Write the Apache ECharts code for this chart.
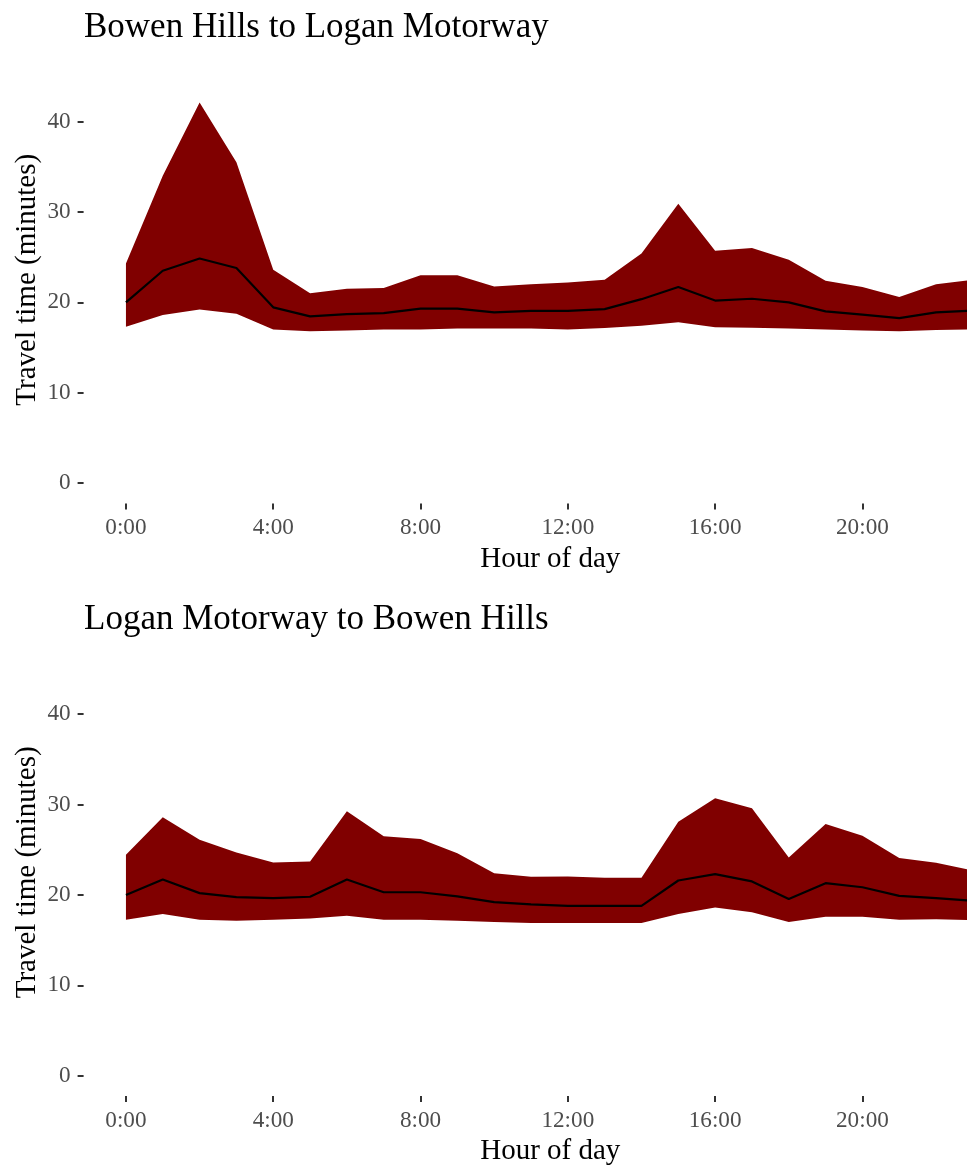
<!DOCTYPE html>
<html>
<head>
<meta charset="utf-8">
<script src="https://cdn.jsdelivr.net/npm/echarts@6/dist/echarts.min.js"></script>
<style>
  html, body { margin: 0; padding: 0; background: #ffffff; }
  #chart { width: 967px; height: 1165px; }
</style>
</head>
<body>
<div id="chart"></div>
<script>
// ---- data ----
const hours = [0,1,2,3,4,5,6,7,8,9,10,11,12,13,14,15,16,17,18,19,20,21,22,23];
const xTickValues = [0, 4, 8, 12, 16, 20];
const xTickLabels = ['0:00', '4:00', '8:00', '12:00', '16:00', '20:00'];
const yTickValues = [0, 10, 20, 30, 40];

const titles = ['Bowen Hills to Logan Motorway', 'Logan Motorway to Bowen Hills'];

// Bowen Hills to Logan Motorway
const upperNorthSouth  = [24.3, 34.0, 42.1, 35.5, 23.6, 21.0, 21.5, 21.6, 23.0, 23.0, 21.75, 22.0, 22.2, 22.5, 25.4, 30.9, 25.7, 26.0, 24.7, 22.4, 21.7, 20.6, 22.0, 22.5];
const medianNorthSouth = [20.0, 23.5, 24.85, 23.8, 19.45, 18.45, 18.7, 18.8, 19.3, 19.3, 18.9, 19.05, 19.05, 19.25, 20.35, 21.7, 20.2, 20.4, 20.0, 19.0, 18.65, 18.25, 18.9, 19.1];
const lowerNorthSouth  = [17.3, 18.6, 19.2, 18.75, 17.0, 16.8, 16.9, 17.0, 17.0, 17.1, 17.1, 17.1, 17.0, 17.15, 17.4, 17.8, 17.25, 17.2, 17.1, 17.0, 16.9, 16.8, 16.95, 17.0];

// Logan Motorway to Bowen Hills
const upperSouthNorth  = [24.45, 28.6, 26.1, 24.7, 23.6, 23.7, 29.25, 26.5, 26.2, 24.6, 22.4, 22.0, 22.05, 21.9, 21.9, 28.1, 30.7, 29.6, 24.15, 27.85, 26.55, 24.1, 23.55, 22.7];
const medianSouthNorth = [20.0, 21.7, 20.2, 19.75, 19.65, 19.8, 21.7, 20.3, 20.3, 19.85, 19.2, 18.95, 18.8, 18.8, 18.8, 21.6, 22.3, 21.5, 19.55, 21.3, 20.85, 19.9, 19.65, 19.35];
const lowerSouthNorth  = [17.25, 17.9, 17.25, 17.15, 17.25, 17.4, 17.7, 17.25, 17.25, 17.15, 17.0, 16.9, 16.9, 16.9, 16.9, 17.9, 18.6, 18.1, 17.0, 17.6, 17.6, 17.25, 17.3, 17.2];

// ---- chart ----
const FONT = '"Liberation Serif", "Times New Roman", serif';
const panels = [
  { upper: upperNorthSouth, median: medianNorthSouth, lower: lowerNorthSouth },
  { upper: upperSouthNorth, median: medianSouthNorth, lower: lowerSouthNorth }
];
const gridTops = [56, 648.6];
const gridHeight = 447.5;

function ribbonSeries(idx, upper, lower) {
  return {
    type: 'custom',
    xAxisIndex: idx, yAxisIndex: idx,
    clip: true,
    silent: true,
    data: hours.map((h, i) => [h, lower[i], upper[i]]),
    renderItem: function (params, api) {
      if (params.dataIndex !== 0) return null;
      const pts = [];
      for (let i = 0; i < hours.length; i++) pts.push(api.coord([hours[i], upper[i]]));
      for (let i = hours.length - 1; i >= 0; i--) pts.push(api.coord([hours[i], lower[i]]));
      return { type: 'polygon', shape: { points: pts }, style: { fill: '#800000', stroke: null } };
    }
  };
}

const option = {
  backgroundColor: '#ffffff',
  animation: false,
  title: titles.map((t, i) => ({
    text: t,
    left: 84,
    top: gridTops[i] - 46,
    padding: 0,
    textStyle: { fontFamily: FONT, fontSize: 35, fontWeight: 'normal', color: '#000000' }
  })),
  grid: gridTops.map(t => ({ left: 83.6, top: t, right: 0, height: gridHeight, containLabel: false, outerBoundsMode: 'none' })),
  xAxis: [0, 1].map(i => ({
    type: 'value', gridIndex: i, min: -1.15, max: 22.84,
    name: 'Hour of day', nameLocation: 'middle', nameGap: 41, nameMoveOverlap: false,
    nameTextStyle: { fontFamily: FONT, fontSize: 29, color: '#000000', padding: [0, 0, 0, 50] },
    axisLine: { show: false, onZero: false },
    splitLine: { show: false },
    axisTick: { show: true, customValues: xTickValues, length: 6, lineStyle: { color: '#333333', width: 2 } },
    axisLabel: {
      customValues: xTickValues, margin: 13,
      fontFamily: FONT, fontSize: 23.2, color: '#4d4d4d',
      formatter: v => xTickLabels[xTickValues.indexOf(v)]
    }
  })),
  yAxis: [0, 1].map(i => ({
    type: 'value', gridIndex: i, min: -2.25, max: 47.25,
    name: 'Travel time (minutes)', nameLocation: 'middle', nameGap: 42, nameRotate: 90, nameMoveOverlap: false,
    nameTextStyle: { fontFamily: FONT, fontSize: 29, color: '#000000' },
    axisLine: { show: false, onZero: false },
    splitLine: { show: false },
    axisTick: { show: true, customValues: yTickValues, length: 6, lineStyle: { color: '#333333', width: 2 } },
    axisLabel: {
      customValues: yTickValues, margin: 13,
      fontFamily: FONT, fontSize: 23.2, color: '#4d4d4d'
    }
  })),
  series: []
};

panels.forEach((p, i) => {
  option.series.push(ribbonSeries(i, p.upper, p.lower));
  option.series.push({
    type: 'line', xAxisIndex: i, yAxisIndex: i,
    data: hours.map((h, k) => [h, p.median[k]]),
    showSymbol: false, symbol: 'none', silent: true,
    lineStyle: { color: '#000000', width: 2.2 },
    z: 3
  });
});

const chart = echarts.init(document.getElementById('chart'), null, { renderer: 'canvas' });
chart.setOption(option);
</script>
</body>
</html>
